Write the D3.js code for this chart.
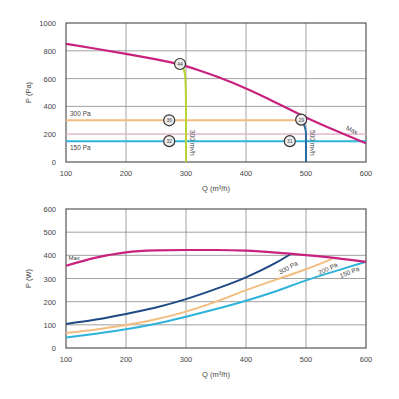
<!DOCTYPE html>
<html>
<head>
<meta charset="utf-8">
<script src="https://cdn.jsdelivr.net/npm/d3@7"></script>
<style>
  body { margin: 0; background: #fff; }
  text { font-family: "Liberation Sans", Arial, sans-serif; fill: #444; }
</style>
</head>
<body>
<svg id="chart" width="399" height="399"></svg>
<script>
// axis ticks
const qTicks = [100, 200, 300, 400, 500, 600];
const paTicks = [0, 200, 400, 600, 800, 1000];
const wTicks = [0, 100, 200, 300, 400, 500, 600];

// top chart: pressure curves
const maxQ = [100, 150, 200, 250, 290, 320, 350, 400, 450, 500, 550, 600];
const maxPa = [850, 815, 778, 740, 705, 662, 618, 532, 428, 318, 225, 135];
const pa300Q = [100, 490];
const pa300 = [300, 300];
const pa200Q = [100, 600];
const pa200 = [200, 200];
const pa150Q = [100, 600];
const pa150 = [150, 150];
const q300Q = [290, 296, 299, 300, 300];
const q300Pa = [705, 670, 600, 400, 0];
const q500Q = [490, 497, 500, 500];
const q500Pa = [300, 265, 200, 0];
const markQ = [290, 272, 272, 492, 473];
const markPa = [705, 300, 150, 305, 150];
const markLbl = ["44", "36", "32", "29", "31"];

// bottom chart: power curves
const wMaxQ = [100, 150, 200, 250, 300, 350, 400, 450, 500, 550, 600];
const wMax = [355, 390, 413, 421, 423, 423, 420, 412, 401, 388, 372];
const w300Q = [100, 150, 200, 250, 300, 350, 400, 450, 476];
const w300 = [104, 123, 147, 175, 211, 255, 305, 368, 408];
const w200Q = [100, 150, 200, 250, 300, 350, 400, 450, 500, 543];
const w200 = [65, 80, 99, 124, 157, 200, 250, 295, 340, 384];
const w150Q = [100, 150, 200, 250, 300, 350, 400, 450, 500, 550, 600];
const w150 = [45, 62, 81, 105, 135, 168, 204, 245, 292, 333, 372];

const svg = d3.select("#chart");
const x = d3.scaleLinear().domain([100, 600]).range([66, 366]);
const yTop = d3.scaleLinear().domain([0, 1000]).range([162, 23]);
const yBot = d3.scaleLinear().domain([0, 600]).range([348, 209]);

function frame(y, yt) {
  const g = svg.append("g");
  g.selectAll(".vg").data(qTicks.slice(1, -1)).enter().append("line")
    .attr("x1", d => x(d)).attr("x2", d => x(d))
    .attr("y1", y.range()[0]).attr("y2", y.range()[1])
    .attr("stroke", "#8a8a8a").attr("stroke-width", 0.8);
  g.selectAll(".hg").data(yt.slice(1, -1)).enter().append("line")
    .attr("x1", x(100)).attr("x2", x(600))
    .attr("y1", d => y(d)).attr("y2", d => y(d))
    .attr("stroke", "#8a8a8a").attr("stroke-width", 0.8);
  g.append("rect")
    .attr("x", x(100)).attr("y", y.range()[1])
    .attr("width", x(600) - x(100)).attr("height", y.range()[0] - y.range()[1])
    .attr("fill", "none").attr("stroke", "#555").attr("stroke-width", 1.2);
  g.selectAll(".yl").data(yt).enter().append("text")
    .attr("x", 56).attr("y", d => y(d) + 3)
    .attr("text-anchor", "end").attr("font-size", 7.5)
    .text(d => d);
  g.selectAll(".xl").data(qTicks).enter().append("text")
    .attr("x", d => x(d)).attr("y", y.range()[0] + 14)
    .attr("text-anchor", "middle").attr("font-size", 7.5)
    .text(d => d);
  return g;
}

function curve(xs, ys, y, color, w, c) {
  const pts = xs.map((q, i) => [x(q), y(ys[i])]);
  svg.append("path")
    .attr("d", d3.line().curve(c || d3.curveMonotoneX)(pts))
    .attr("fill", "none").attr("stroke", color).attr("stroke-width", w || 2);
}

// ---- top chart
frame(yTop, paTicks);
curve(pa200Q, pa200, yTop, "#ebbfd6", 1.5);
curve(pa300Q, pa300, yTop, "#f2bd80", 2);
curve(pa150Q, pa150, yTop, "#2fb3da", 2);
curve(q300Q, q300Pa, yTop, "#b9d334", 2, d3.curveMonotoneY);
curve(q500Q, q500Pa, yTop, "#2a6a9e", 2, d3.curveMonotoneY);
curve(maxQ, maxPa, yTop, "#c8227f", 2.2, d3.curveBasis);

const marks = svg.selectAll(".mk").data(markQ).enter().append("g")
  .attr("transform", (d, i) => "translate(" + x(d) + "," + yTop(markPa[i]) + ")");
marks.append("circle").attr("r", 5.5)
  .attr("fill", "#eee").attr("stroke", "#333").attr("stroke-width", 1.2);
marks.append("text").attr("y", 2).attr("text-anchor", "middle")
  .attr("font-size", 5).attr("fill", "#333")
  .text((d, i) => markLbl[i]);

svg.append("text").attr("x", 70).attr("y", yTop(300) - 4).attr("font-size", 6.5).text("300 Pa");
svg.append("text").attr("x", 70).attr("y", yTop(150) + 9).attr("font-size", 6.5).text("150 Pa");
svg.append("text").attr("transform", "translate(" + (x(300) + 4) + "," + yTop(230) + ") rotate(90)")
  .attr("font-size", 6.5).text("300 m³/h");
svg.append("text").attr("transform", "translate(" + (x(500) + 4) + "," + yTop(230) + ") rotate(90)")
  .attr("font-size", 6.5).text("500 m³/h");
svg.append("text").attr("transform", "translate(" + x(575) + "," + yTop(215) + ") rotate(25)")
  .attr("text-anchor", "middle").attr("font-size", 6.5).text("Max");
svg.append("text").attr("transform", "translate(31," + yTop(500) + ") rotate(-90)")
  .attr("text-anchor", "middle").attr("font-size", 7.5).text("P (Pa)");
svg.append("text").attr("x", x(350)).attr("y", 191)
  .attr("text-anchor", "middle").attr("font-size", 7.5).text("Q (m³/h)");

// ---- bottom chart
frame(yBot, wTicks);
curve(w150Q, w150, yBot, "#2fb3da", 2);
curve(w200Q, w200, yBot, "#f2bd80", 2);
curve(w300Q, w300, yBot, "#1f4a85", 2);
curve(wMaxQ, wMax, yBot, "#c8227f", 2.2);

svg.append("text").attr("x", x(104)).attr("y", yBot(378)).attr("font-size", 6).text("Max");
svg.append("text").attr("transform", "translate(" + x(472) + "," + yBot(338) + ") rotate(-28)")
  .attr("text-anchor", "middle").attr("font-size", 6.5).text("300 Pa");
svg.append("text").attr("transform", "translate(" + x(538) + "," + yBot(334) + ") rotate(-25)")
  .attr("text-anchor", "middle").attr("font-size", 6.5).text("200 Pa");
svg.append("text").attr("transform", "translate(" + x(574) + "," + yBot(318) + ") rotate(-22)")
  .attr("text-anchor", "middle").attr("font-size", 6.5).text("150 Pa");
svg.append("text").attr("transform", "translate(31," + yBot(300) + ") rotate(-90)")
  .attr("text-anchor", "middle").attr("font-size", 7.5).text("P (W)");
svg.append("text").attr("x", x(350)).attr("y", 377)
  .attr("text-anchor", "middle").attr("font-size", 7.5).text("Q (m³/h)");
</script>
</body>
</html>
